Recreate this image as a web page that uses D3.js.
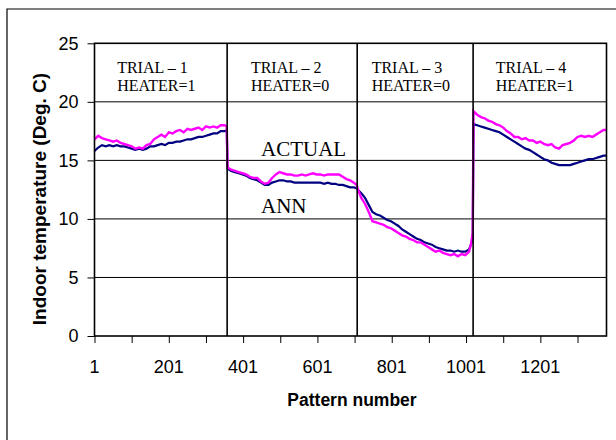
<!DOCTYPE html>
<html>
<head>
<meta charset="utf-8">
<script src="https://cdn.jsdelivr.net/npm/d3@7"></script>
<style>
    body { margin: 0; background: #fff; }
    svg { display: block; }
    .sans { font-family: "Liberation Sans", Arial, sans-serif; }
    .serif { font-family: "Liberation Serif", "Times New Roman", serif; }
</style>
</head>
<body>
<div id="chart"></div>
<script>
// Pattern numbers sampled along each trial (one shared x for both series)
const pattern = [
    // trial 1
    1, 11, 21, 31, 41, 51, 61, 71, 81, 91, 101, 111, 121, 131, 141, 151, 161, 171, 181, 191,
    201, 211, 221, 231, 241, 251, 261, 271, 281, 291, 301, 311, 321, 331, 341, 351, 357,
    // trial 2
    359, 369, 379, 389, 399, 409, 419, 429, 439, 449, 459, 469, 479, 489, 499, 509, 519, 529,
    539, 549, 559, 569, 579, 589, 599, 609, 619, 629, 639, 649, 659, 669, 679, 689, 699, 707,
    // trial 3
    709, 719, 729, 739, 749, 759, 769, 779, 789, 799, 809, 819, 829, 839, 849, 859, 869, 879,
    889, 899, 909, 919, 929, 939, 949, 959, 969, 979, 989, 999, 1009, 1014, 1019,
    // trial 4
    1021, 1031, 1041, 1051, 1061, 1071, 1081, 1091, 1101, 1111, 1121, 1131, 1141, 1151, 1161,
    1171, 1181, 1191, 1201, 1211, 1221, 1231, 1241, 1251, 1261, 1271, 1281, 1291, 1301, 1311,
    1321, 1331, 1341, 1351, 1361, 1371, 1379
];

// measured indoor temperature (deg C)
const actual = [
    16.8, 17.1, 16.9, 16.8, 16.7, 16.6, 16.7, 16.5, 16.4, 16.3, 16.2, 16.0, 16.1, 16.0, 16.3, 16.4, 16.8, 17.0, 17.2, 17.0,
    17.4, 17.3, 17.5, 17.6, 17.4, 17.7, 17.6, 17.7, 17.8, 17.6, 17.9, 17.8, 17.9, 17.8, 18.0, 18.0, 17.9,
    14.4, 14.2, 14.1, 14.0, 13.9, 13.8, 13.6, 13.5, 13.5, 13.2, 13.0, 13.1, 13.5, 13.8, 14.0, 13.9, 13.8, 13.8,
    13.7, 13.7, 13.8, 13.7, 13.8, 13.9, 13.8, 13.8, 13.7, 13.8, 13.8, 13.8, 13.8, 13.6, 13.4, 13.3, 13.1, 12.9,
    12.6, 11.8, 11.3, 10.6, 9.8, 9.7, 9.6, 9.5, 9.3, 9.2, 9.0, 8.8, 8.6, 8.5, 8.3, 8.2, 8.0, 8.0,
    7.8, 7.6, 7.4, 7.2, 7.3, 7.1, 7.0, 6.9, 7.0, 6.8, 7.0, 6.9, 7.2, 7.8, 8.8,
    19.2, 18.9, 18.7, 18.6, 18.4, 18.3, 18.1, 18.0, 17.8, 17.5, 17.3, 17.0, 17.0, 16.8, 16.9,
    16.7, 16.7, 16.5, 16.6, 16.4, 16.3, 16.4, 16.1, 16.0, 16.3, 16.4, 16.5, 16.7, 17.0, 17.1,
    17.0, 17.1, 17.0, 17.2, 17.4, 17.6, 17.6
];

// ANN prediction (deg C)
const ann = [
    15.8, 16.1, 16.3, 16.2, 16.3, 16.2, 16.3, 16.2, 16.2, 16.1, 16.0, 15.9, 16.0, 15.9, 16.0, 16.2, 16.2, 16.3, 16.4, 16.3,
    16.5, 16.5, 16.6, 16.6, 16.7, 16.8, 16.8, 16.9, 17.0, 17.0, 17.1, 17.2, 17.3, 17.3, 17.5, 17.5, 17.6,
    14.3, 14.1, 14.0, 13.9, 13.8, 13.7, 13.5, 13.4, 13.3, 13.1, 12.9, 12.9, 13.1, 13.2, 13.3, 13.3, 13.2, 13.2,
    13.1, 13.1, 13.1, 13.1, 13.1, 13.1, 13.1, 13.1, 13.0, 13.1, 13.0, 13.0, 12.9, 12.9, 12.8, 12.7, 12.7, 12.6,
    12.5, 12.2, 11.8, 11.2, 10.6, 10.4, 10.3, 10.1, 9.9, 9.8, 9.6, 9.4, 9.1, 8.9, 8.7, 8.5, 8.3, 8.2,
    8.0, 7.9, 7.8, 7.6, 7.5, 7.4, 7.3, 7.3, 7.2, 7.3, 7.2, 7.2, 7.4, 7.8, 8.3,
    18.1, 18.0, 17.9, 17.8, 17.7, 17.6, 17.5, 17.4, 17.2, 17.0, 16.8, 16.6, 16.4, 16.2, 16.0,
    15.9, 15.7, 15.5, 15.3, 15.1, 15.0, 14.8, 14.7, 14.6, 14.6, 14.6, 14.6, 14.7, 14.8, 14.9,
    15.0, 15.1, 15.1, 15.2, 15.3, 15.4, 15.4
];

// trial boundaries and annotation text
const trialBounds = [358, 708, 1020];
const trialLabels = ['TRIAL \u2013 1', 'TRIAL \u2013 2', 'TRIAL \u2013 3', 'TRIAL \u2013 4'];
const heaterLabels = ['HEATER=1', 'HEATER=0', 'HEATER=0', 'HEATER=1'];
const trialLabelAt = [62, 422, 747, 1081];

const yTicks = [0, 5, 10, 15, 20, 25];
const xMinorTicks = [1, 101, 201, 301, 401, 501, 601, 701, 801, 901, 1001, 1101, 1201, 1301];
const xLabels = [1, 201, 401, 601, 801, 1001, 1201];

const width = 616, height = 440;
const plot = {left: 94.5, right: 606.5, top: 43.3, bottom: 336};

const svg = d3.select('#chart').append('svg')
    .attr('width', width)
    .attr('height', height);

// outer chart frame (runs off right and bottom edge)
svg.append('path')
    .attr('d', `M7,${height + 5} V9 H${width + 5}`)
    .attr('fill', 'none')
    .attr('stroke', '#000')
    .attr('stroke-width', 1.2);

const x = d3.scaleLinear().domain([1, 1379]).range([plot.left, plot.right]);
const y = d3.scaleLinear().domain([0, 25]).range([plot.bottom, plot.top]);

// horizontal gridlines
svg.append('g')
    .selectAll('line')
    .data(yTicks.filter(d => d > 0 && d < 25))
    .join('line')
    .attr('x1', plot.left).attr('x2', plot.right)
    .attr('y1', d => y(d)).attr('y2', d => y(d))
    .attr('stroke', '#000')
    .attr('stroke-width', 1);

// y axis
let yAxis = svg.append('g')
    .attr('transform', `translate(${plot.left},0)`)
    .call(d3.axisLeft(y).tickValues(yTicks).tickSize(7).tickPadding(9));
yAxis.select('.domain').remove();
yAxis.selectAll('line').attr('stroke', '#000');
yAxis.selectAll('text')
    .attr('class', 'sans')
    .attr('font-size', 18)
    .attr('fill', '#000');

// x axis
let xAxis = svg.append('g')
    .attr('transform', `translate(0,${plot.bottom})`)
    .call(d3.axisBottom(x).tickValues(xMinorTicks).tickSize(7).tickFormat(''));
xAxis.select('.domain').remove();
xAxis.selectAll('line').attr('stroke', '#000');

svg.append('g')
    .selectAll('text')
    .data(xLabels)
    .join('text')
    .attr('class', 'sans')
    .attr('x', d => x(d))
    .attr('y', 373)
    .attr('text-anchor', 'middle')
    .attr('font-size', 18)
    .text(d => d);

// lines
const line = d3.line()
    .x((d, i) => x(pattern[i]))
    .y(d => y(d));

svg.append('path')
    .datum(ann)
    .attr('d', line)
    .attr('fill', 'none')
    .attr('stroke', '#000080')
    .attr('stroke-width', 2.2);

svg.append('path')
    .datum(actual)
    .attr('d', line)
    .attr('fill', 'none')
    .attr('stroke', '#ff00ff')
    .attr('stroke-width', 2.4);

// trial separators
svg.append('g')
    .selectAll('line')
    .data(trialBounds)
    .join('line')
    .attr('x1', d => x(d)).attr('x2', d => x(d))
    .attr('y1', plot.top).attr('y2', plot.bottom)
    .attr('stroke', '#000')
    .attr('stroke-width', 1.6);

// plot frame
svg.append('rect')
    .attr('x', plot.left).attr('y', plot.top)
    .attr('width', plot.right - plot.left)
    .attr('height', plot.bottom - plot.top)
    .attr('fill', 'none')
    .attr('stroke', '#000')
    .attr('stroke-width', 1.6);

// trial annotations
let notes = svg.append('g').attr('class', 'serif').attr('font-size', 16);
notes.selectAll('text.trial')
    .data(trialLabels)
    .join('text')
    .classed('trial', true)
    .attr('x', (d, i) => x(trialLabelAt[i]))
    .attr('y', 72.7)
    .text(d => d);
notes.selectAll('text.heater')
    .data(heaterLabels)
    .join('text')
    .classed('heater', true)
    .attr('x', (d, i) => x(trialLabelAt[i]))
    .attr('y', 91)
    .text(d => d);

// series labels
svg.append('text')
    .attr('class', 'serif')
    .attr('x', 261).attr('y', 156)
    .attr('font-size', 21)
    .text('ACTUAL');
svg.append('text')
    .attr('class', 'serif')
    .attr('x', 261).attr('y', 212.7)
    .attr('font-size', 21)
    .text('ANN');

// axis titles
svg.append('text')
    .attr('class', 'sans')
    .attr('x', 352).attr('y', 406)
    .attr('text-anchor', 'middle')
    .attr('font-size', 17.5)
    .attr('font-weight', 'bold')
    .text('Pattern number');

svg.append('text')
    .attr('class', 'sans')
    .attr('transform', 'translate(46,199) rotate(-90)')
    .attr('text-anchor', 'middle')
    .attr('font-size', 19)
    .attr('font-weight', 'bold')
    .text('Indoor temperature (Deg. C)');
</script>
</body>
</html>
